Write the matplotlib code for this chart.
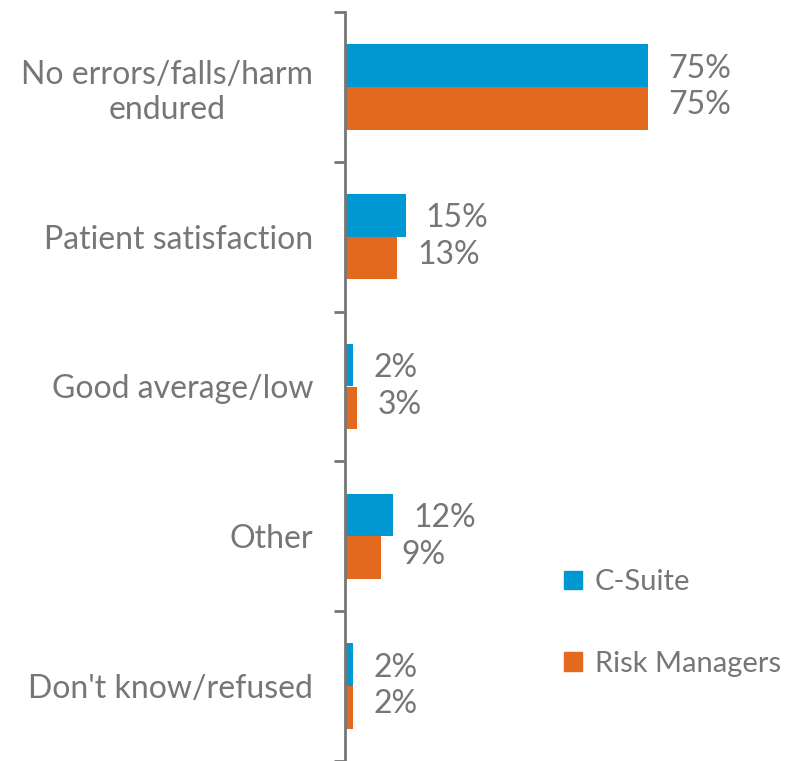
import numpy as np
import matplotlib.pyplot as plt
from matplotlib.patches import Patch

categories = ["No errors/falls/harm\nendured", "Patient satisfaction",
              "Good average/low", "Other", "Don't know/refused"]
c_suite = [75, 15, 2, 12, 2]
risk_mgr = [75, 13, 3, 9, 2]
series_names = ["C-Suite", "Risk Managers"]

blue = "#0098D2"
orange = "#E2691E"
grey = "#767676"

plt.rcParams['font.family'] = ['Lato', 'DejaVu Sans']
fs = 23

fig = plt.figure(figsize=(8.05, 7.61), dpi=100)
ax = fig.add_axes([345/805, 0, 460/805, 1 - 12/761])

y = np.arange(len(categories))
h = 0.285
ax.barh(y - h/2, c_suite, height=h, color=blue)
ax.barh(y + h/2, risk_mgr, height=h, color=orange)

for i in range(len(categories)):
    ax.text(c_suite[i] + 5, y[i] - h/2 + 0.02, f"{c_suite[i]}%", va="center",
            ha="left", fontsize=fs, color=grey)
    ax.text(risk_mgr[i] + 5, y[i] + h/2 - 0.02, f"{risk_mgr[i]}%", va="center",
            ha="left", fontsize=fs, color=grey)

ax.set_xlim(0, 114)
ax.set_ylim(len(categories) - 0.5, -0.5)

ax.set_yticks(y)
ax.set_yticklabels(categories, fontsize=fs, color=grey, ha="right",
                   multialignment="center")
ax.tick_params(axis="y", which="major", length=0, pad=23)
ax.set_yticks(np.arange(-0.5, len(categories), 1), minor=True)
ax.tick_params(axis="y", which="minor", length=8, width=2, color=grey)
ax.set_xticks([])

for s in ["top", "right", "bottom"]:
    ax.spines[s].set_visible(False)
ax.spines["left"].set_color(grey)
ax.spines["left"].set_linewidth(2)
ax.patch.set_alpha(0)

handles = [Patch(color=blue), Patch(color=orange)]
fig.legend(handles, series_names, loc="upper left",
           bbox_to_anchor=(538/805, 1 - 543/761), frameon=False,
           fontsize=21, labelcolor=grey, handlelength=0.6, handleheight=0.6,
           handletextpad=0.45, labelspacing=1.9)

plt.savefig("out.png", dpi=100)
